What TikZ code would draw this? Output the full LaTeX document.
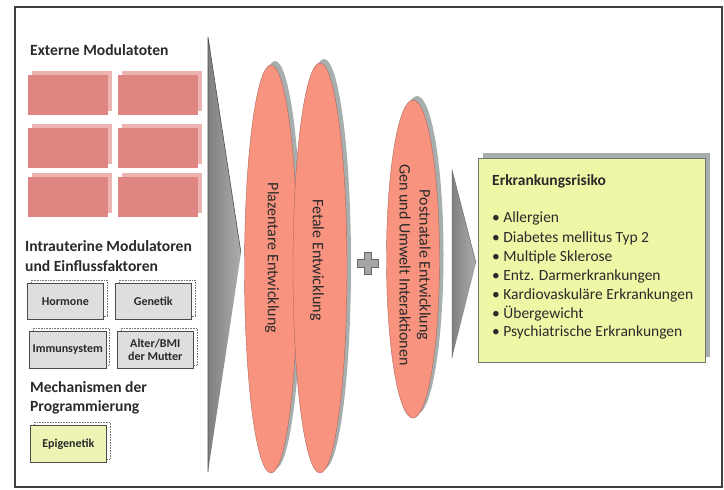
\documentclass[tikz,border=0pt]{standalone}
\usepackage{fontspec}
\setmainfont{Carlito}
\usetikzlibrary{shapes.geometric}
\definecolor{salmon}{HTML}{F7937F}
\definecolor{pinkbox}{HTML}{DF8682}
\definecolor{pinkshadow}{HTML}{EDB3B0}
\definecolor{shadowgray}{HTML}{A7AEAE}
\definecolor{boxgray}{HTML}{DEDEDE}
\definecolor{riskgreen}{HTML}{EFF6A6}
\definecolor{epigreen}{HTML}{EEF5B4}
\definecolor{textdark}{HTML}{2A2A2A}
\tikzset{
  heading/.style={anchor=west, font=\fontsize{15.6}{17}\selectfont\bfseries, text=textdark, inner sep=0pt},
  pinkrect/.style={fill=pinkbox, draw=none},
  pinkshad/.style={fill=pinkshadow, draw=none},
  graybox/.style={fill=boxgray, draw=black!70, line width=0.6pt, font=\fontsize{12}{13.5}\selectfont\bfseries, text=textdark, align=center},
  grayshad/.style={draw=black!55, densely dotted, line width=0.6pt, fill=white},
  lens/.style={ellipse, fill=salmon, draw=salmon!70!black, line width=0.4pt, inner sep=0pt, text=textdark},
  lensshadow/.style={ellipse, fill=shadowgray, draw=none, inner sep=0pt},
  lenstext/.style={rotate=-90, align=center, text=textdark, font=\fontsize{16}{20}\selectfont},
  item/.style={anchor=west, inner sep=0pt, font=\fontsize{15.5}{17}\selectfont, text=textdark},
}
\begin{document}
\begin{tikzpicture}[x=1pt,y=-1pt]
\useasboundingbox (0,0) rectangle (724,490);
\fill[white] (0,0) rectangle (724,490);
% frame
\draw[black!75, line width=1.4pt] (15,7) rectangle (722,487);

% left panel
\node[heading] (ext) at (30,50) {Externe Modulatoten};
\foreach \i/\xa in {1/28,2/118}{
  \foreach \j/\ya in {1/75,2/128,3/177}{
    \fill[pinkshad] (\xa+4,\ya-4) rectangle (\xa+84,\ya+36);
    \node[pinkrect, anchor=north west, minimum width=80pt, minimum height=40pt, inner sep=0pt] (p\i\j) at (\xa,\ya) {};
  }
}
\node[heading] (intra1) at (25,246) {Intrauterine Modulatoren};
\node[heading] (intra2) at (25,266) {und Einflussfaktoren};

\draw[grayshad] (31,280) rectangle (107,316);
\node[graybox, anchor=north west, minimum width=76pt, minimum height=36pt] (horm) at (27,283) {Hormone};
\draw[grayshad] (119,280) rectangle (195,316);
\node[graybox, anchor=north west, minimum width=76pt, minimum height=36pt] (gen) at (115,283) {Genetik};
\draw[grayshad] (33,328) rectangle (109,365);
\node[graybox, anchor=north west, minimum width=76pt, minimum height=37pt] (immun) at (29,331) {Immunsystem};
\draw[grayshad] (121,328) rectangle (197,365);
\node[graybox, anchor=north west, minimum width=76pt, minimum height=37pt, font=\fontsize{12}{13}\selectfont\bfseries] (alter) at (117,331) {Alter/BMI\\der Mutter};

\node[heading] (mech1) at (30,387) {Mechanismen der};
\node[heading] (mech2) at (30,407) {Programmierung};
\draw[grayshad] (34,422) rectangle (110,459);
\node[graybox, fill=epigreen, anchor=north west, minimum width=76pt, minimum height=37pt] (epi) at (30,425) {Epigenetik};

% big arrow
\coordinate (a1) at (208,37);
\coordinate (a2) at (241,253);
\coordinate (a3) at (208,472);
\shade[left color=black!50, right color=black!32] (a1) -- (a2) -- (a3) -- cycle;
\draw[black!70, line width=0.6pt] (a3) -- (a1) -- (a2);

% ellipses with shadows
\node[lensshadow, minimum width=53pt, minimum height=408pt] at (275,265) {};
\node[lens, minimum width=53pt, minimum height=408pt] (plaz) at (271,269) {};
\node[lensshadow, minimum width=54pt, minimum height=410pt] at (324,264) {};
\node[lens, minimum width=54pt, minimum height=410pt] (fet) at (320,268) {};
\node[lensshadow, minimum width=53pt, minimum height=318pt] at (417,255) {};
\node[lens, minimum width=53pt, minimum height=318pt] (post) at (413,259) {};
\node[lenstext] (plazt) at (272,258) {Plazentare Entwicklung};
\node[lenstext] (fett) at (317,260) {Fetale Entwicklung};
\node[lenstext] (postt) at (415,265) {Postnatale Entwicklung\\Gen und Umwelt Interaktionen};

% plus sign
\coordinate (plus) at (367.5,263);
\fill[black!35, draw=black!60, line width=0.6pt]
  ([shift={(-3.5,-11)}]plus) -- ([shift={(3.5,-11)}]plus) -- ([shift={(3.5,-4)}]plus) -- ([shift={(10.5,-4)}]plus)
  -- ([shift={(10.5,4)}]plus) -- ([shift={(3.5,4)}]plus) -- ([shift={(3.5,11)}]plus) -- ([shift={(-3.5,11)}]plus)
  -- ([shift={(-3.5,4)}]plus) -- ([shift={(-10.5,4)}]plus) -- ([shift={(-10.5,-4)}]plus) -- ([shift={(-3.5,-4)}]plus) -- cycle;

% second arrow
\coordinate (b1) at (452,170);
\coordinate (b2) at (476,263);
\coordinate (b3) at (452,358);
\shade[left color=black!50, right color=black!32] (b1) -- (b2) -- (b3) -- cycle;
\draw[black!60, line width=0.5pt] (b3) -- (b1) -- (b2);

% risk box
\fill[shadowgray] (483,153) rectangle (710,357);
\node[fill=riskgreen, draw=black!55, line width=0.6pt, anchor=north west, minimum width=227pt, minimum height=204pt, inner sep=0pt] (risk) at (478,158) {};
\node[item, font=\fontsize{15.5}{17}\selectfont\bfseries] (rtitle) at (492,181) {Erkrankungsrisiko};
\node[item] (r1) at (492,218) {• Allergien};
\node[item] (r2) at (492,238) {• Diabetes mellitus Typ 2};
\node[item] (r3) at (492,257) {• Multiple Sklerose};
\node[item] (r4) at (492,276) {• Entz. Darmerkrankungen};
\node[item] (r5) at (492,295) {• Kardiovaskuläre Erkrankungen};
\node[item] (r6) at (492,314) {• Übergewicht};
\node[item] (r7) at (492,332) {• Psychiatrische Erkrankungen};
\end{tikzpicture}
\end{document}
